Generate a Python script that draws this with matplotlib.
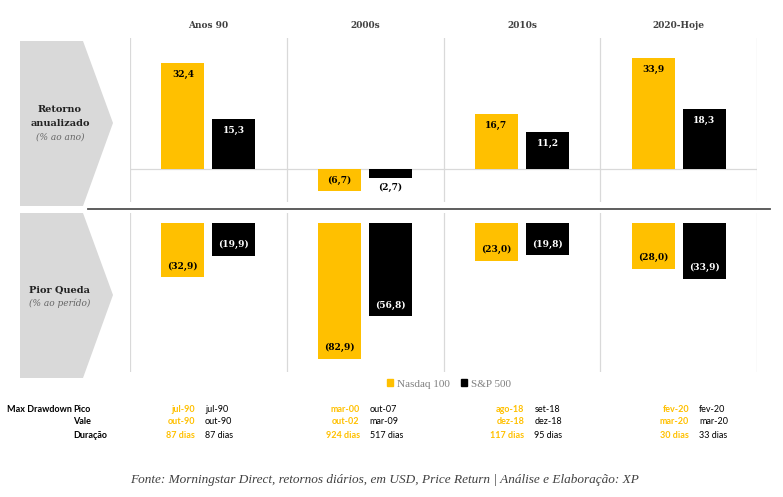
import matplotlib.pyplot as plt
import numpy as np
from matplotlib.patches import Polygon, Patch
from matplotlib.lines import Line2D

# data
periods = ['Anos 90', '2000s', '2010s', '2020-Hoje']
ret_nasdaq = [32.4, -6.7, 16.7, 33.9]
ret_sp = [15.3, -2.7, 11.2, 18.3]
dd_nasdaq = [-32.9, -82.9, -23.0, -28.0]
dd_sp = [-19.9, -56.8, -19.8, -33.9]

pico_nasdaq = ['jul-90', 'mar-00', 'ago-18', 'fev-20']
pico_sp = ['jul-90', 'out-07', 'set-18', 'fev-20']
vale_nasdaq = ['out-90', 'out-02', 'dez-18', 'mar-20']
vale_sp = ['out-90', 'mar-09', 'dez-18', 'mar-20']
dur_nasdaq = ['87 dias', '924 dias', '117 dias', '30 dias']
dur_sp = ['87 dias', '517 dias', '95 dias', '33 dias']

YELLOW = '#FFC000'
BLACK = '#000000'
GRID = '#D9D9D9'
DARK = '#404040'
W, H = 783, 497


def fx(x):
    return x / W


def fy(y):
    return 1 - y / H


def fmt(v):
    s = f'{abs(v):.1f}'.replace('.', ',')
    return f'({s})' if v < 0 else s


fig = plt.figure(figsize=(7.83, 4.97), dpi=100)
fig.patch.set_facecolor('white')

# grey arrow shapes on the left
for top, tip, bot in [(41, 123, 206), (213, 295, 378)]:
    pts = [(fx(20), fy(top)), (fx(83), fy(top)), (fx(113), fy(tip)),
           (fx(83), fy(bot)), (fx(20), fy(bot))]
    fig.patches.append(Polygon(pts, closed=True, transform=fig.transFigure,
                               facecolor='#D9D9D9', edgecolor='none'))

fig.text(fx(60), fy(109), 'Retorno', ha='center', va='center', family='DejaVu Serif',
         weight='bold', fontsize=7, color='#222222')
fig.text(fx(60), fy(123), 'anualizado', ha='center', va='center', family='DejaVu Serif',
         weight='bold', fontsize=7, color='#222222')
fig.text(fx(60), fy(137), '(% ao ano)', ha='center', va='center', family='DejaVu Serif',
         style='italic', fontsize=6.5, color='#666666')
fig.text(fx(60), fy(290), 'Pior Queda', ha='center', va='center', family='DejaVu Serif',
         weight='bold', fontsize=7, color='#222222')
fig.text(fx(60), fy(303), '(% ao perído)', ha='center', va='center', family='DejaVu Serif',
         style='italic', fontsize=6.5, color='#666666')

x = np.arange(len(periods)) + 0.5
off = 0.163
bw = 0.274

# top panel: annualised return
ax1 = fig.add_axes([fx(130), fy(202), fx(757) - fx(130), (202 - 38) / H])
ax1.set_xlim(0, 4)
ax1.set_ylim(-10.1, 40.1)
ax1.axhline(0, color=GRID, lw=0.9, zorder=0)
for v in range(5):
    ax1.axvline(v, color=GRID, lw=0.9, zorder=0)
ax1.bar(x - off, ret_nasdaq, bw, color=YELLOW, zorder=2)
ax1.bar(x + off, ret_sp, bw, color=BLACK, zorder=2)
for xi, v, col in [(xx, vv, 'n') for xx, vv in zip(x - off, ret_nasdaq)] + \
                  [(xx, vv, 's') for xx, vv in zip(x + off, ret_sp)]:
    inside = abs(v) > 5
    tc = BLACK if (col == 'n' or not inside) else 'white'
    if inside:
        y = v - 3.5 if v > 0 else v + 3.3
    else:
        y = v - 2.8
    ax1.text(xi, y, fmt(v), ha='center', va='center', family='DejaVu Serif',
             weight='bold', fontsize=6.5, color=tc, zorder=3)
ax1.axis('off')

for xi, p in zip(x, periods):
    ax1.text(xi, 40.1 + 13 / 3.27, p, ha='center', va='center', family='DejaVu Serif',
             weight='bold', fontsize=6.5, color=DARK)

# separator
fig.add_artist(Line2D([fx(88), fx(770)], [fy(209), fy(209)], color='#505050', lw=1.3))

# bottom panel: worst drawdown
ax2 = fig.add_axes([fx(130), fy(372), fx(757) - fx(130), (372 - 213) / H])
ax2.set_xlim(0, 4)
ax2.set_ylim(-90.9, 6.1)
for v in range(5):
    ax2.axvline(v, color=GRID, lw=0.9, zorder=0)
ax2.bar(x - off, dd_nasdaq, bw, color=YELLOW, zorder=2, label='Nasdaq 100')
ax2.bar(x + off, dd_sp, bw, color=BLACK, zorder=2, label='S&P 500')
for xi, v in zip(x - off, dd_nasdaq):
    ax2.text(xi, v + 6.7, fmt(v), ha='center', va='center', family='DejaVu Serif',
             weight='bold', fontsize=6.5, color=BLACK, zorder=3)
for xi, v in zip(x + off, dd_sp):
    ax2.text(xi, v + 6.7, fmt(v), ha='center', va='center', family='DejaVu Serif',
             weight='bold', fontsize=6.5, color='white', zorder=3)
ax2.axis('off')

handles = [Patch(color=YELLOW), Patch(color=BLACK)]
leg = fig.legend(handles, ['Nasdaq 100', 'S&P 500'], loc='center left',
                 bbox_to_anchor=(fx(381), fy(384)), ncol=2, frameon=False,
                 handlelength=0.6, handleheight=0.6, handletextpad=0.3,
                 columnspacing=1.0, borderpad=0,
                 prop={'family': 'Liberation Serif', 'size': 8})
for t in leg.get_texts():
    t.set_color('#808080')

# drawdown table
rows_y = [409, 422, 435]
fig.text(fx(7), fy(409), 'Max Drawdown', ha='left', va='center', family='Lato',
         weight='bold', fontsize=6.5, color=BLACK)
for ry, lab in zip(rows_y, ['Pico', 'Vale', 'Duração']):
    fig.text(fx(73), fy(ry), lab, ha='left', va='center', family='Lato',
             weight='bold', fontsize=6.5, color=BLACK)

for i in range(len(periods)):
    xr = 195 + i * 164.7
    xl = xr + 10
    for ry, nq, sp in zip(rows_y, [pico_nasdaq[i], vale_nasdaq[i], dur_nasdaq[i]],
                          [pico_sp[i], vale_sp[i], dur_sp[i]]):
        fig.text(fx(xr), fy(ry), nq, ha='right', va='center', family='Lato',
                 weight='bold', fontsize=6.5, color=YELLOW)
        fig.text(fx(xl), fy(ry), sp, ha='left', va='center', family='Lato',
                 fontsize=6.5, color=BLACK)

fig.text(fx(385), fy(480),
         'Fonte: Morningstar Direct, retornos diários, em USD, Price Return | Análise e Elaboração: XP',
         ha='center', va='center', family='Liberation Serif', style='italic',
         fontsize=9.5, color=DARK)

fig.savefig('out.png', dpi=100, facecolor='white')
